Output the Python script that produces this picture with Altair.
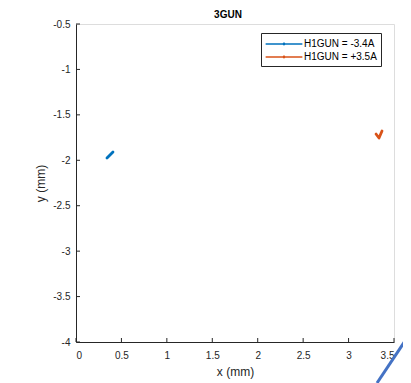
import altair as alt
import pandas as pd

# ---- data ----
series_names = ["H1GUN = -3.4A", "H1GUN = +3.5A"]
series_colors = ["#0072BD", "#D95319"]

blue_x = [0.341, 0.363, 0.385, 0.407]
blue_y = [-1.975, -1.953, -1.931, -1.909]
red_x = [3.302, 3.335, 3.368]
red_y = [-1.711, -1.755, -1.678]

x_ticks = [0, 0.5, 1, 1.5, 2, 2.5, 3, 3.5]
y_ticks = [-4, -3.5, -3, -2.5, -2, -1.5, -1, -0.5]

# stray screenshot stroke at bottom right (in data units)
stray_x = [3.313, 3.687]
stray_y = [-4.451, -3.890]

rows = []
for i, (xx, yy) in enumerate(zip(blue_x, blue_y)):
    rows.append({"series": series_names[0], "x": xx, "y": yy, "order": i})
for i, (xx, yy) in enumerate(zip(red_x, red_y)):
    rows.append({"series": series_names[1], "x": xx, "y": yy, "order": i})
df = pd.DataFrame(rows)

W, H = 318, 318
font = "Liberation Sans"
axc = "#262626"

xscale = alt.Scale(domain=[0, 3.5], nice=False, zero=False)
yscale = alt.Scale(domain=[-4, -0.5], nice=False, zero=False)

xaxis = alt.Axis(values=x_ticks, labelExpr="'' + datum.value", grid=False,
                 ticks=False, tickSize=0, labelPadding=8, domainColor=axc,
                 labelColor=axc, labelFont=font, labelFontSize=10,
                 title="x (mm)", titleFont=font, titleFontSize=12,
                 titleFontWeight="normal", titleColor=axc, titlePadding=6)
yaxis = alt.Axis(values=y_ticks, labelExpr="'' + datum.value", grid=False,
                 ticks=False, tickSize=0, labelPadding=6, domainColor=axc,
                 labelColor=axc, labelFont=font, labelFontSize=10,
                 title="y (mm)", titleFont=font, titleFontSize=12,
                 titleFontWeight="normal", titleColor=axc, titlePadding=5)

symbol_path = ("M-3,0L3,0M-0.12,0a0.12,0.12 0 1,0 0.24,0"
               "a0.12,0.12 0 1,0 -0.24,0")

lines = alt.Chart(df).mark_line(strokeWidth=2.8, strokeCap="round",
                                strokeJoin="round").encode(
    x=alt.X("x:Q", scale=xscale, axis=xaxis),
    y=alt.Y("y:Q", scale=yscale, axis=yaxis),
    color=alt.Color("series:N",
                    scale=alt.Scale(domain=series_names, range=series_colors),
                    sort=series_names,
                    legend=alt.Legend(title=None, orient="none",
                                      legendX=185, legendY=9,
                                      strokeColor="#262626", fillColor="white",
                                      padding=4, symbolType=symbol_path,
                                      symbolSize=150, symbolStrokeWidth=1.3,
                                      symbolOffset=12,
                                      labelFont=font, labelFontSize=10,
                                      labelColor="black", labelOffset=13,
                                      rowPadding=1)),
    order="order:Q",
)

xt = pd.DataFrame({"v": x_ticks})
yt = pd.DataFrame({"v": y_ticks})
xtick_marks = alt.Chart(xt).mark_rule(color=axc, strokeWidth=1).encode(
    x=alt.X("v:Q", scale=xscale), y=alt.value(H), y2=alt.value(H - 4))
ytick_marks = alt.Chart(yt).mark_rule(color=axc, strokeWidth=1).encode(
    y=alt.Y("v:Q", scale=yscale), x=alt.value(0), x2=alt.value(4))

stray = alt.Chart(pd.DataFrame({"x": stray_x, "y": stray_y})).mark_line(
    color="#4472C4", strokeWidth=3, clip=False).encode(
    x=alt.X("x:Q", scale=xscale), y=alt.Y("y:Q", scale=yscale))

chart = alt.layer(xtick_marks, ytick_marks, lines, stray).properties(
    width=W, height=H,
    title=alt.TitleParams("3GUN", font=font, fontSize=10, fontWeight="bold",
                          color="black", anchor="middle", dx=-7, dy=15,
                          baseline="alphabetic", offset=6),
    autosize=alt.AutoSizeParams(type="none"),
    padding={"left": 68, "top": 16, "right": 9, "bottom": 41},
).configure_view(stroke=None).configure(background="white")

chart.save("out.html", embed_options={"renderer": "svg", "actions": False})
